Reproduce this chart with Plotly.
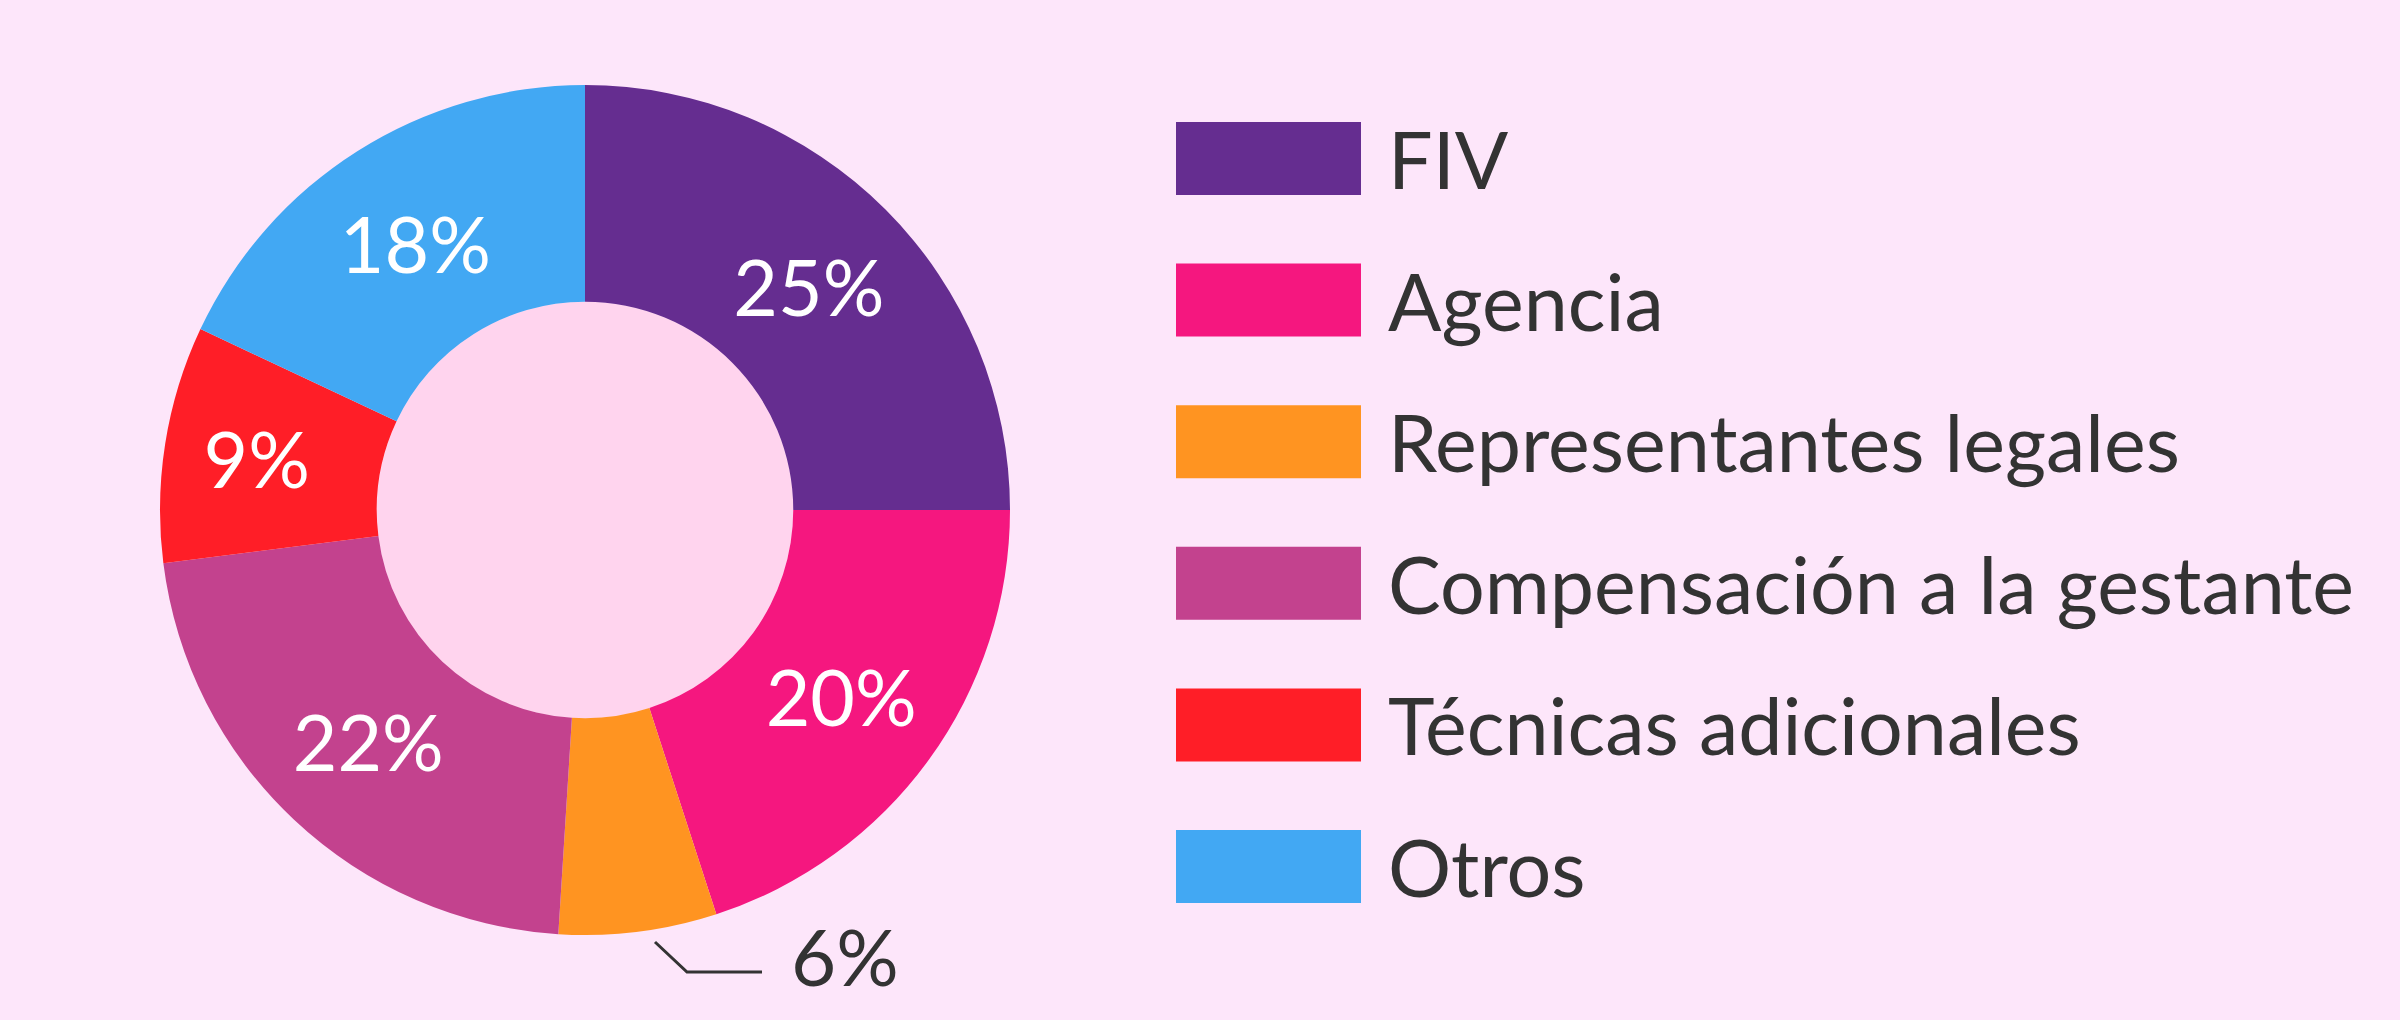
import plotly.graph_objects as go

# data
categories = ['FIV', 'Agencia', 'Representantes legales',
              'Compensación a la gestante', 'Técnicas adicionales', 'Otros']
values = [25, 20, 6, 22, 9, 18]
colors = ['#652D90', '#F5177F', '#FF9421', '#C3428E', '#FF1E27', '#42A8F3']

W, H = 2400, 1020
BG = '#FDE6FA'
HOLE_BG = '#FFD4EE'
TEXT = '#333333'
FONT = 'Lato'

# pie geometry in pixels
cx, cy, r_out = 585, 510, 425
hole = 0.49


def px(x):
    return x / W


def py(y):
    return 1 - y / H


# small slice gets its label outside (drawn by hand below)
small = values.index(min(values))
textpos = ['inside' if i != small else 'none' for i in range(len(values))]

fig = go.Figure(
    go.Pie(
        labels=categories,
        values=values,
        marker=dict(colors=colors, line=dict(width=0)),
        hole=hole,
        sort=False,
        direction='clockwise',
        rotation=0,
        texttemplate='%{value}%',
        textposition=textpos,
        insidetextorientation='horizontal',
        insidetextfont=dict(family=FONT, size=77, color='white'),
        domain=dict(x=[px(cx - r_out), px(cx + r_out)],
                    y=[py(cy + r_out), py(cy - r_out)]),
        showlegend=False,
        hoverinfo='label+percent',
    )
)

shapes = []
annotations = []

# pink hole behind the donut
r_in = r_out * hole
shapes.append(dict(type='circle', xref='paper', yref='paper', layer='below',
                   x0=px(cx - r_in), x1=px(cx + r_in),
                   y0=py(cy + r_in), y1=py(cy - r_in),
                   fillcolor=HOLE_BG, line=dict(width=0)))

# leader line + label for the small slice
shapes.append(dict(type='path', xref='paper', yref='paper',
                   path=f'M {px(655)} {py(942)} L {px(687)} {py(972)} L {px(762)} {py(972)}',
                   line=dict(color=TEXT, width=3)))
annotations.append(dict(x=px(789), y=py(956), xref='paper', yref='paper',
                        xanchor='left', yanchor='middle', showarrow=False,
                        text=f'{values[small]}%',
                        font=dict(family=FONT, size=78, color=TEXT)))

# hand made legend
top, step, rh = 122, 141.6, 73
for i, (cat, col) in enumerate(zip(categories, colors)):
    y0 = top + i * step
    shapes.append(dict(type='rect', xref='paper', yref='paper',
                       x0=px(1176), x1=px(1361), y0=py(y0 + rh), y1=py(y0),
                       fillcolor=col, line=dict(width=0)))
    annotations.append(dict(x=px(1386), y=py(y0 + rh / 2), xref='paper', yref='paper',
                            xanchor='left', yanchor='middle', showarrow=False,
                            text=cat, font=dict(family=FONT, size=79, color=TEXT)))

fig.update_layout(
    width=W, height=H,
    margin=dict(l=0, r=0, t=0, b=0),
    paper_bgcolor=BG,
    plot_bgcolor=BG,
    shapes=shapes,
    annotations=annotations,
)

fig.write_html('out.html', config={'displayModeBar': False},
               post_script="document.body.style.margin='0';")
